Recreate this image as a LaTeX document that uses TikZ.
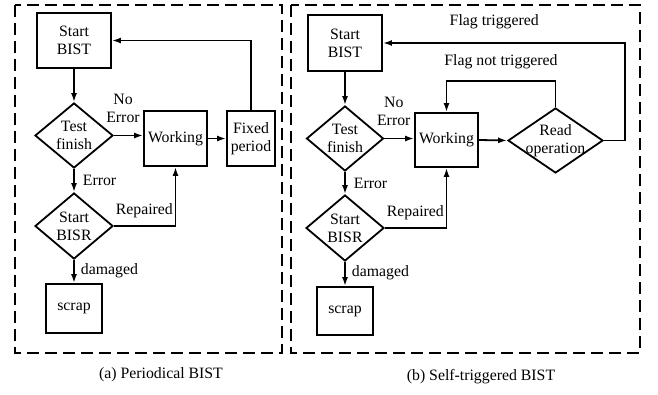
\documentclass[tikz,border=0pt]{standalone}
\usepackage{fontspec}
\setmainfont{Liberation Serif}
\usetikzlibrary{shapes.geometric,arrows.meta}

\begin{document}
\begin{tikzpicture}[x=1pt,y=-1pt,font=\fontsize{15.8}{18}\selectfont,
	box/.style={draw,line width=1.8pt,align=center,inner sep=1pt},
	test/.style={draw,diamond,line width=1.8pt,align=center,inner sep=-8pt},
	flow/.style={line width=1.8pt,-{Latex[length=9pt,width=6pt]}},
	lbl/.style={inner sep=1pt,align=center},
	frame/.style={line width=1.8pt,dash pattern=on 12pt off 6pt}]
	\useasboundingbox (0,0) rectangle (658,394);
	
	% (a) periodical BIST
	\draw[frame] (15,5) rectangle (282,353);
	\node[box,minimum width=74pt,minimum height=55pt] (bistA) at (74,40.5) {Start\\BIST};
	\node[test,minimum width=78pt,minimum height=65pt] (testA) at (74,135.5) {Test\\finish};
	\node[box,minimum width=63pt,minimum height=55pt] (workA) at (175.5,138.5) {Working};
	\node[box,minimum width=48pt,minimum height=55pt] (fixA) at (251,138.5) {Fixed\\period};
	\node[test,minimum width=78pt,minimum height=66pt] (bisrA) at (74,226) {Start\\BISR};
	\node[box,minimum width=56pt,minimum height=49pt] (scrapA) at (74,308.5) {scrap};
	\node (capA) at (161,375) {(a) Periodical BIST};
	
	\draw[flow] (bistA) -- (testA);
	\draw[flow] (testA.east) -- (testA.east -| workA.west) node[lbl,midway,above=11pt,xshift=-5.5pt] (noerrA) {No\\Error};
	\draw[flow] (workA.east) -- (workA.east -| fixA.west);
	\draw[flow] (fixA.north) |- (bistA.east);
	\draw[flow] (testA) -- (bisrA) node[lbl,midway,right=7pt] (errA) {Error};
	\draw[flow] (bisrA.east) -| (workA.south) node[lbl,pos=0,anchor=south west,yshift=6pt] (repA) {Repaired};
	\draw[flow] (bisrA) -- (scrapA) node[lbl,pos=0.45,right=5pt] (dmgA) {damaged};
	
	% (b) self-triggered BIST
	\draw[frame] (291,5) rectangle (640,353);
	\node[box,minimum width=74pt,minimum height=56pt] (bistB) at (345,43) {Start\\BIST};
	\node[test,minimum width=77pt,minimum height=65pt] (testB) at (345,138.5) {Test\\finish};
	\node[box,minimum width=63pt,minimum height=54pt] (workB) at (446.5,140) {Working};
	\node[test,minimum width=95pt,minimum height=65pt] (readB) at (555.5,140.5) {Read\\operation};
	\node[test,minimum width=78pt,minimum height=66pt] (bisrB) at (345,228) {Start\\BISR};
	\node[box,minimum width=56pt,minimum height=48pt] (scrapB) at (345,311) {scrap};
	\node (capB) at (481,377) {(b) Self-triggered BIST};
	\coordinate (trigB) at (625,43);
	\coordinate (loopB) at (555.5,81);
	
	\draw[flow] (bistB) -- (testB);
	\draw[flow] (testB.east) -- (testB.east -| workB.west) node[lbl,midway,above=11pt,xshift=-5.5pt] (noerrB) {No\\Error};
	\draw[flow] (workB.east) -- (readB.west);
	\draw[flow] (readB.east) -| (trigB) -- (bistB.east) node[lbl,pos=0.54,above=12pt] (flagB) {Flag triggered};
	\draw[flow] (readB.north) -- (loopB) -| (workB.north) node[lbl,pos=0.25,above=10pt] (noflagB) {Flag not triggered};
	\draw[flow] (testB) -- (bisrB) node[lbl,midway,right=7pt] (errB) {Error};
	\draw[flow] (bisrB.east) -| (workB.south) node[lbl,pos=0,anchor=south west,yshift=6pt] (repB) {Repaired};
	\draw[flow] (bisrB) -- (scrapB) node[lbl,pos=0.45,right=5pt] (dmgB) {damaged};
\end{tikzpicture}
\end{document}
